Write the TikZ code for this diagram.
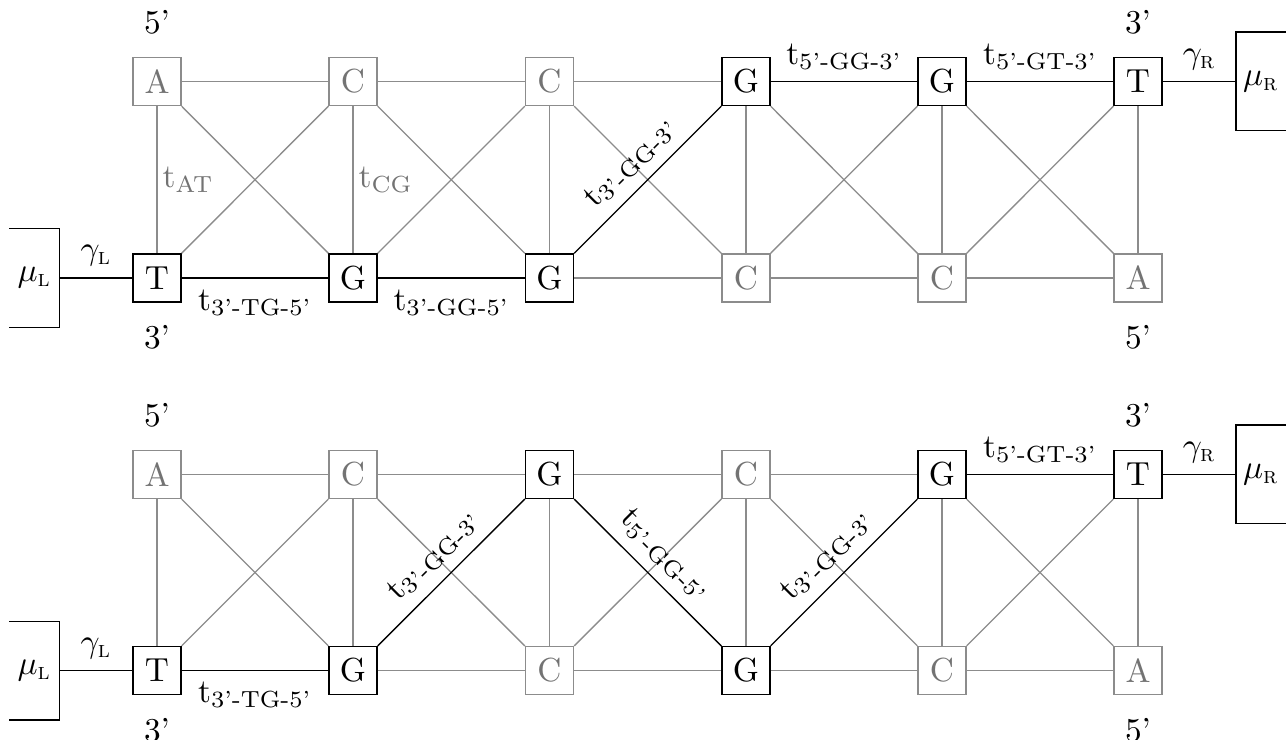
\documentclass[tikz,border=0pt]{standalone}
\usepackage{amsmath}
\usetikzlibrary{calc}
\begin{document}
\begin{tikzpicture}[x=0.3pt,y=-0.3pt,
  base/.style={draw,rectangle,minimum size=14.4pt,inner sep=0pt,fill=white,font=\normalsize},
  on/.style={base,draw=black,text=black},
  off/.style={base,draw=black!45,text=black!55},
  gl/.style={draw=black!45},
  bl/.style={draw=black},
  glab/.style={text=black!55,inner sep=1.5pt},
  mubox/.style={rectangle,inner sep=0pt,minimum width=49\pgfkeysvalueof{/tikz/x},minimum height=97pt*0.3}
]
\useasboundingbox (0,0) rectangle (1286,740);
\tikzset{mubox/.style={rectangle,inner sep=0pt,minimum width=14.7pt,minimum height=29.2pt}}
\newcommand{\tl}[1]{$\mathrm{t}_{\text{#1}}$}

% ---------- panel 1 ----------
\node[off] (p1) at (157,81.5) {A};
\node[off] (p2) at (353,81.5) {C};
\node[off] (p3) at (549.5,81.5) {C};
\node[on]  (p4) at (746,81.5) {G};
\node[on]  (p5) at (942,81.5) {G};
\node[on]  (p6) at (1138,81.5) {T};
\node[on]  (q1) at (157,278) {T};
\node[on]  (q2) at (353,278) {G};
\node[on]  (q3) at (549.5,278) {G};
\node[off] (q4) at (746,278) {C};
\node[off] (q5) at (942,278) {C};
\node[off] (q6) at (1138,278) {A};
\node[mubox] (muL1) at (34.5,278) {$\mu_{\text{\scshape l}}$};
\node[mubox] (muR1) at (1261,81.5) {$\mu_{\text{\scshape r}}$};
\draw (muL1.north west) -- (muL1.north east) -- (muL1.south east) -- (muL1.south west);
\draw (muR1.north east) -- (muR1.north west) -- (muR1.south west) -- (muR1.south east);

\foreach \a/\b in {p1/p2,p2/p3,p3/p4,q3/q4,q4/q5,q5/q6,
  p3/q3,p4/q4,p5/q5,p6/q6,
  p1/q2,p2/q3,p3/q4,p4/q5,p5/q6,
  q1/p2,q2/p3,q4/p5,q5/p6}
  \draw[gl] (\a) -- (\b);
\draw[gl] (p1) -- node[right,glab] {$\mathrm{t}_{\mathrm{AT}}$} (q1);
\draw[gl] (p2) -- node[right,glab] {$\mathrm{t}_{\mathrm{CG}}$} (q2);

\draw[bl] (muL1) -- node[above] {$\gamma_{\text{\scshape l}}$} (q1);
\draw[bl] (q1) -- node[below] {\tl{3'-TG-5'}} (q2);
\draw[bl] (q2) -- node[below] {\tl{3'-GG-5'}} (q3);
\draw[bl] (q3) -- node[above,sloped] {\tl{3'-GG-3'}} (p4);
\draw[bl] (p4) -- node[above] {\tl{5'-GG-3'}} (p5);
\draw[bl] (p5) -- node[above] {\tl{5'-GT-3'}} (p6);
\draw[bl] (p6) -- node[above] {$\gamma_{\text{\scshape r}}$} (muR1);

\node (e1) at ($(p1)+(0,-59.5)$) {5'};
\node (e2) at ($(p6)+(0,-59.5)$) {3'};
\node (e3) at ($(q1)+(0,59.5)$) {3'};
\node (e4) at ($(q6)+(0,59.5)$) {5'};

% ---------- panel 2 ----------
\node[off] (r1) at (157,474.5) {A};
\node[off] (r2) at (353,474.5) {C};
\node[on]  (r3) at (549.5,474.5) {G};
\node[off] (r4) at (746,474.5) {C};
\node[on]  (r5) at (942,474.5) {G};
\node[on]  (r6) at (1138,474.5) {T};
\node[on]  (s1) at (157,670.5) {T};
\node[on]  (s2) at (353,670.5) {G};
\node[off] (s3) at (549.5,670.5) {C};
\node[on]  (s4) at (746,670.5) {G};
\node[off] (s5) at (942,670.5) {C};
\node[off] (s6) at (1138,670.5) {A};
\node[mubox] (muL2) at (34.5,670.5) {$\mu_{\text{\scshape l}}$};
\node[mubox] (muR2) at (1261,474.5) {$\mu_{\text{\scshape r}}$};
\draw (muL2.north west) -- (muL2.north east) -- (muL2.south east) -- (muL2.south west);
\draw (muR2.north east) -- (muR2.north west) -- (muR2.south west) -- (muR2.south east);

\foreach \a/\b in {r1/r2,r2/r3,r3/r4,r4/r5,s2/s3,s3/s4,s4/s5,s5/s6,
  r1/s1,r2/s2,r3/s3,r4/s4,r5/s5,r6/s6,
  r1/s2,r2/s3,r4/s5,r5/s6,
  s1/r2,s3/r4,s5/r6}
  \draw[gl] (\a) -- (\b);

\draw[bl] (muL2) -- node[above] {$\gamma_{\text{\scshape l}}$} (s1);
\draw[bl] (s1) -- node[below] {\tl{3'-TG-5'}} (s2);
\draw[bl] (s2) -- node[above,sloped] {\tl{3'-GG-3'}} (r3);
\draw[bl] (r3) -- node[above,sloped] {\tl{5'-GG-5'}} (s4);
\draw[bl] (s4) -- node[above,sloped] {\tl{3'-GG-3'}} (r5);
\draw[bl] (r5) -- node[above] {\tl{5'-GT-3'}} (r6);
\draw[bl] (r6) -- node[above] {$\gamma_{\text{\scshape r}}$} (muR2);

\node (f1) at ($(r1)+(0,-59.5)$) {5'};
\node (f2) at ($(r6)+(0,-59.5)$) {3'};
\node (f3) at ($(s1)+(0,59.5)$) {3'};
\node (f4) at ($(s6)+(0,59.5)$) {5'};
\end{tikzpicture}
\end{document}
